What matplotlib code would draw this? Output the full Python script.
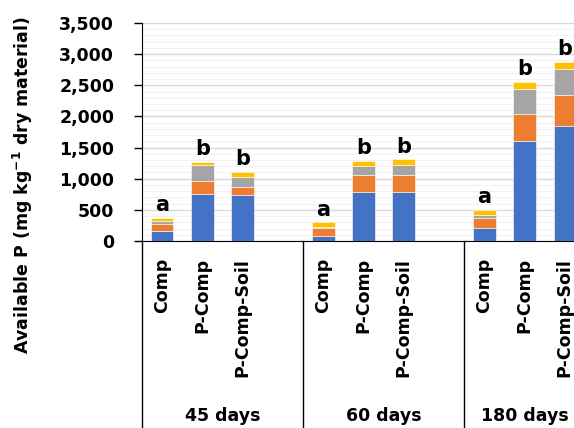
import numpy as np
import matplotlib.pyplot as plt
from matplotlib.transforms import blended_transform_factory

# dados (mg/kg), segmentos empilhados de baixo para cima
grupos = ["45 days", "60 days", "180 days"]
tratamentos = ["Comp", "P-Comp", "P-Comp-Soil"]
azul = [160, 760, 745, 85, 790, 790, 210, 1610, 1840]
laranja = [115, 200, 115, 120, 265, 275, 165, 435, 505]
cinza = [40, 255, 170, 20, 155, 155, 50, 400, 410]
amarelo = [60, 60, 75, 75, 75, 90, 80, 105, 120]
letras = ["a", "b", "b", "a", "b", "b", "a", "b", "b"]

# posicoes: 3 barras por grupo + uma vaga vazia entre grupos
x = np.array([g * 4 + i for g in range(len(grupos)) for i in range(len(tratamentos))])
rotulos = tratamentos * len(grupos)

fig = plt.figure(figsize=(5.74, 4.28), dpi=100)
ax = fig.add_axes([142 / 574, 1 - 241 / 428, 443 / 574, 218 / 428])

cores = ["#4472C4", "#ED7D31", "#A5A5A5", "#FFC000"]
base = np.zeros(len(x))
for serie, cor in zip([azul, laranja, cinza, amarelo], cores):
    ax.bar(x, serie, 0.56, bottom=base, color=cor, edgecolor="white", linewidth=0.4, zorder=3)
    base += np.array(serie)

for xi, topo, letra in zip(x, base, letras):
    ax.annotate(letra, (xi, topo), xytext=(0, 2), textcoords="offset points",
                ha="center", va="bottom", fontsize=15, fontweight="bold")

ax.set_xlim(-0.5, 10.5)
ax.set_ylim(0, 3500)
ax.set_yticks(np.arange(0, 3501, 500))
ax.set_yticklabels([f"{v:,}" for v in range(0, 3501, 500)], fontsize=12.5, fontweight="bold")
ax.set_yticks(np.arange(0, 3501, 100), minor=True)
ax.tick_params(axis="y", which="major", length=6, width=1, pad=14)
ax.tick_params(axis="y", which="minor", length=0)
ax.grid(axis="y", which="major", color="#D9D9D9", linewidth=1, zorder=0)
ax.grid(axis="y", which="minor", color="#F2F2F2", linewidth=0.8, zorder=0)
ax.set_axisbelow(True)

ax.set_xticks(x)
ax.set_xticklabels(rotulos, rotation=90, fontsize=12.5, fontweight="bold", va="top", ha="center")
ax.tick_params(axis="x", length=0, pad=12)

for lado in ["top", "right"]:
    ax.spines[lado].set_visible(False)
ax.spines["left"].set_color("black")
ax.spines["bottom"].set_color("black")

# linhas separadoras dos grupos e rotulos dos dias
trans = blended_transform_factory(ax.transData, ax.transAxes)
for sep in [-0.5, 3.5, 7.5]:
    ax.plot([sep, sep], [0, -0.86], color="black", linewidth=1, transform=trans, clip_on=False)
for g, nome in enumerate(grupos):
    meio = np.mean(x[g * 3:(g + 1) * 3]) if g == 2 else g * 4 + 1.5
    ax.text(meio, -0.805, nome, transform=trans, ha="center", va="center",
            fontsize=12.5, fontweight="bold")

fig.text(23 / 574, 1 - 185 / 428, r"Available P (mg kg$^{\mathbf{-1}}$ dry material)",
         rotation=90, ha="center", va="center", fontsize=12.5, fontweight="bold")

fig.savefig("out.png", dpi=100)
